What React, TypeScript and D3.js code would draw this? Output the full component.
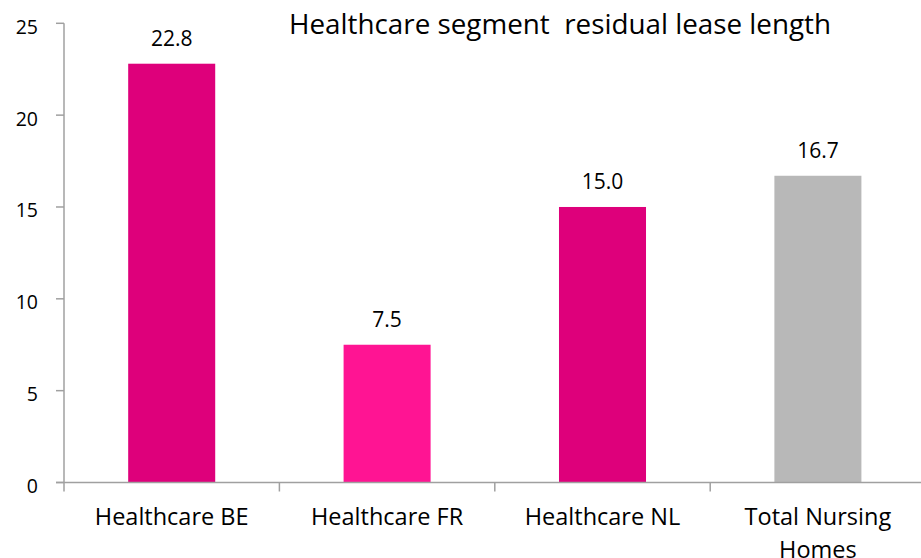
import React from "react";
import * as d3 from "d3";

const categories = ["Healthcare BE", "Healthcare FR", "Healthcare NL", "Total Nursing Homes"];
const values = [22.8, 7.5, 15.0, 16.7];
const labels = ["22.8", "7.5", "15.0", "16.7"];
const barColors = ["#DE007B", "#FF1493", "#DE007B", "#B8B8B8"];
const yTicks = [0, 5, 10, 15, 20, 25];
const title = "Healthcare segment  residual lease length";

const W = 921;
const H = 558;
const FONT = "'Open Sans', 'Noto Sans', sans-serif";

export default function App() {
  const y = d3.scaleLinear().domain([0, 25]).range([482.5, 23.3]);
  const x = d3.scaleBand<string>().domain(categories).range([64, 925.6]).padding(0);
  const bw = x.bandwidth() * 0.404;
  const axisColor = "#A0A0A0";
  const y0 = y(0);

  const wrap = (s: string) => (s === "Total Nursing Homes" ? ["Total Nursing", "Homes"] : [s]);

  return (
    <svg width={W} height={H} style={{ position: "absolute", left: 0, top: 0, display: "block" }}>
      <rect width={W} height={H} fill="#fff" />
      {categories.map((c, i) => (
        <rect
          key={c}
          x={(x(c) as number) + (x.bandwidth() - bw) / 2}
          y={y(values[i])}
          width={bw}
          height={y0 - y(values[i])}
          fill={barColors[i]}
        />
      ))}
      {/* y axis */}
      <line x1={64} x2={64} y1={y(25)} y2={y0} stroke={axisColor} strokeWidth={1.5} />
      {yTicks.map((t) => (
        <g key={t}>
          <line x1={56} x2={64} y1={y(t)} y2={y(t)} stroke={axisColor} strokeWidth={1.5} />
          <text x={38} y={y(t) + 3} textAnchor="end" dominantBaseline="central" fontFamily={FONT} fontSize={19.5} fill="#000">
            {t}
          </text>
        </g>
      ))}
      {/* x axis */}
      <line x1={56} x2={W} y1={y0} y2={y0} stroke={axisColor} strokeWidth={1.5} />
      {categories.map((c) => (
        <line key={c} x1={x(c) as number} x2={x(c) as number} y1={y0} y2={y0 + 9} stroke={axisColor} strokeWidth={1.5} />
      ))}
      {categories.map((c) => {
        const cx = (x(c) as number) + x.bandwidth() / 2;
        return (
          <text key={c} x={cx} y={525} textAnchor="middle" fontFamily={FONT} fontSize={23.5} fill="#000">
            {wrap(c).map((line, j) => (
              <tspan key={j} x={cx} dy={j === 0 ? 0 : 33}>
                {line}
              </tspan>
            ))}
          </text>
        );
      })}
      {categories.map((c, i) => (
        <text
          key={c}
          x={(x(c) as number) + x.bandwidth() / 2}
          y={y(values[i]) - 18}
          textAnchor="middle"
          fontFamily={FONT}
          fontSize={21}
          fill="#000"
        >
          {labels[i]}
        </text>
      ))}
      <text x={560} y={34} textAnchor="middle" fontFamily={FONT} fontSize={27.8} fill="#000" style={{ whiteSpace: "pre" }}>
        {title}
      </text>
    </svg>
  );
}
